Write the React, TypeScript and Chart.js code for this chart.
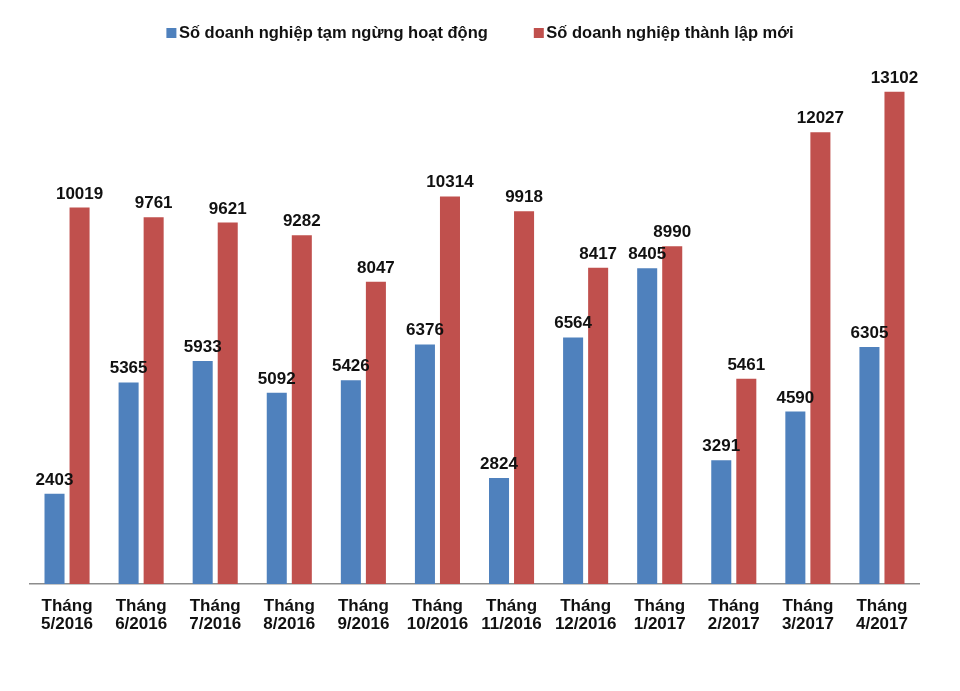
import React, { useEffect, useRef } from "react";
import { Chart, registerables } from "chart.js";

Chart.register(...registerables);

const monthLabels: string[][] = [
  ["Tháng", "5/2016"],
  ["Tháng", "6/2016"],
  ["Tháng", "7/2016"],
  ["Tháng", "8/2016"],
  ["Tháng", "9/2016"],
  ["Tháng", "10/2016"],
  ["Tháng", "11/2016"],
  ["Tháng", "12/2016"],
  ["Tháng", "1/2017"],
  ["Tháng", "2/2017"],
  ["Tháng", "3/2017"],
  ["Tháng", "4/2017"],
];

const seriesNames = [
  "Số doanh nghiệp tạm ngừng hoạt động",
  "Số doanh nghiệp thành lập mới",
];

const pausedCounts = [2403, 5365, 5933, 5092, 5426, 6376, 2824, 6564, 8405, 3291, 4590, 6305];
const newCounts = [10019, 9761, 9621, 9282, 8047, 10314, 9918, 8417, 8990, 5461, 12027, 13102];

const BLUE = "#4F81BD";
const RED = "#C0504D";
const FONT = "'Liberation Sans', Arial, sans-serif";

const valueLabelPlugin = {
  id: "valueLabels",
  afterDatasetsDraw(chart: any) {
    const ctx = chart.ctx;
    ctx.save();
    ctx.font = `bold 17px ${FONT}`;
    ctx.fillStyle = "#111";
    ctx.textAlign = "center";
    ctx.textBaseline = "alphabetic";
    chart.data.datasets.forEach((ds: any, di: number) => {
      const meta = chart.getDatasetMeta(di);
      meta.data.forEach((el: any, i: number) => {
        ctx.fillText(String(ds.data[i]), el.x, el.y - 9);
      });
    });
    ctx.restore();
  },
};

const customLegendPlugin = {
  id: "customLegend",
  afterDraw(chart: any) {
    const ctx = chart.ctx;
    ctx.save();
    ctx.font = `bold 16.5px ${FONT}`;
    ctx.textBaseline = "alphabetic";
    ctx.textAlign = "left";
    const box = 10;
    const boxGap = 2.5;
    const itemGap = 46;
    const items = chart.data.datasets.map((ds: any) => ({
      text: ds.label as string,
      color: ds.backgroundColor as string,
      w: box + boxGap + ctx.measureText(ds.label).width,
    }));
    const total = items.reduce((s: number, it: any) => s + it.w, 0) + itemGap * (items.length - 1);
    let x = chart.width / 2 - total / 2;
    const baseline = 38;
    items.forEach((it: any) => {
      ctx.fillStyle = it.color;
      ctx.fillRect(x, baseline - 10, box, box);
      ctx.fillStyle = "#111";
      ctx.fillText(it.text, x + box + boxGap, baseline);
      x += it.w + itemGap;
    });
    ctx.restore();
  },
};

export default function App() {
  const canvasRef = useRef<HTMLCanvasElement | null>(null);

  useEffect(() => {
    document.body.style.margin = "0";
    const canvas = canvasRef.current;
    if (!canvas) return;
    const chart = new Chart(canvas, {
      type: "bar",
      data: {
        labels: monthLabels,
        datasets: [
          {
            label: seriesNames[0],
            data: pausedCounts,
            backgroundColor: BLUE,
            borderWidth: 0,
          },
          {
            label: seriesNames[1],
            data: newCounts,
            backgroundColor: RED,
            borderWidth: 0,
          },
        ],
      },
      options: {
        animation: false,
        responsive: true,
        maintainAspectRatio: false,
        layout: { padding: { top: 58, left: 30, right: 41, bottom: 0 } },
        datasets: {
          bar: { categoryPercentage: 0.676, barPercentage: 0.8 },
        },
        plugins: {
          legend: { display: false },
          tooltip: { enabled: false },
        },
        scales: {
          x: {
            grid: { display: false },
            border: { display: true, color: "#8c8c8c", width: 1.5 },
            ticks: {
              color: "#111",
              padding: 5,
              font: { family: FONT, size: 17, weight: "bold", lineHeight: 1.06 },
              maxRotation: 0,
              autoSkip: false,
            },
            afterFit: (scale: any) => {
              scale.height = 107;
            },
          },
          y: {
            display: false,
            min: 0,
            max: 14000,
          },
        },
      },
      plugins: [valueLabelPlugin, customLegendPlugin],
    });
    return () => chart.destroy();
  }, []);

  return (
    <div style={{ width: 960, height: 691, position: "relative", background: "#fff" }}>
      <canvas ref={canvasRef} />
    </div>
  );
}
